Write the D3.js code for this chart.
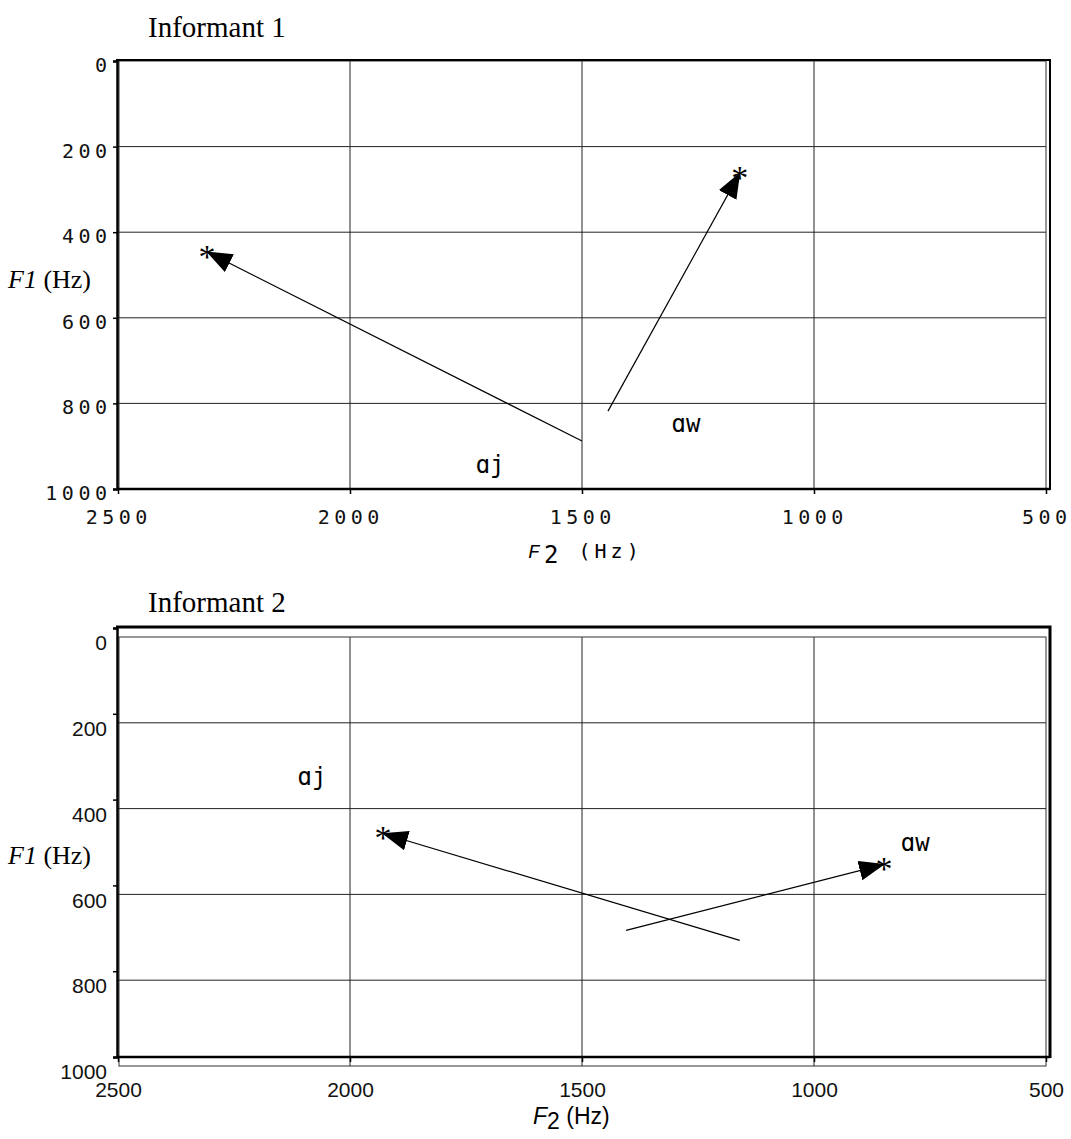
<!DOCTYPE html>
<html>
<head>
<meta charset="utf-8">
<script src="https://cdn.jsdelivr.net/npm/d3@7"></script>
<style>
  body { margin: 0; background: #fff; }
  svg { display: block; }
</style>
</head>
<body>
<svg id="chart" width="1071" height="1139"></svg>
<script>
// ---- data ----
const panelTitles = ["Informant 1", "Informant 2"];
const f2Ticks = [2500, 2000, 1500, 1000, 500];
const f1Ticks = [0, 200, 400, 600, 800, 1000];
const vowelLabels = ["ɑj", "ɑw"];

// Informant 1: trajectory start (F2, F1), end (F2, F1), label position
const inf1StartF2 = [1500, 1444];
const inf1StartF1 = [888, 818];
const inf1EndF2 = [2308, 1160];
const inf1EndF1 = [446, 262];
const inf1LabelF2 = [1698, 1276];
const inf1LabelF1 = [944, 848];

// Informant 2
const inf2StartF2 = [1160, 1405];
const inf2StartF1 = [707, 684];
const inf2EndF2 = [1929, 849];
const inf2EndF1 = [458, 530];
const inf2LabelF2 = [2082, 782];
const inf2LabelF1 = [326, 481];

// ---- drawing ----
const svg = d3.select("#chart");
const defs = svg.append("defs");
defs.append("marker")
  .attr("id", "arrow")
  .attr("markerUnits", "userSpaceOnUse")
  .attr("viewBox", "0 0 26 20")
  .attr("refX", 25).attr("refY", 10)
  .attr("markerWidth", 26).attr("markerHeight", 20)
  .attr("orient", "auto")
  .append("path").attr("d", "M0,0 L26,10 L0,20 Z").attr("fill", "#000");

const xLeft = 118, xRight = 1046;

function buildPanel(cfg) {
  const g = svg.append("g");
  const x = d3.scaleLinear().domain([2500, 500]).range([xLeft, xRight]);
  const y = d3.scaleLinear().domain([0, 1000]).range([cfg.yTop, cfg.yBottom]);

  // grid
  g.append("g").selectAll("line").data(f2Ticks.slice(1, -1)).join("line")
    .attr("x1", d => x(d)).attr("x2", d => x(d))
    .attr("y1", cfg.yTop).attr("y2", cfg.yBottom)
    .attr("stroke", "#222").attr("stroke-width", 1);
  g.append("g").selectAll("line").data(f1Ticks.slice(1, -1)).join("line")
    .attr("x1", xLeft).attr("x2", xRight)
    .attr("y1", d => y(d)).attr("y2", d => y(d))
    .attr("stroke", "#222").attr("stroke-width", 1);

  // inner plot box
  g.append("rect")
    .attr("x", xLeft + 1).attr("y", cfg.yTop)
    .attr("width", xRight - xLeft - 1).attr("height", cfg.yBottom - cfg.yTop)
    .attr("fill", "none").attr("stroke", "#333").attr("stroke-width", 1);

  // outer frame (top + right)
  const ax = cfg.axisShift;
  g.append("path")
    .attr("d", `M${xLeft - 2},${cfg.frameTop} H1050 V${cfg.yBottom + ax + 1}`)
    .attr("fill", "none").attr("stroke", "#000").attr("stroke-width", cfg.frameW);

  // axes
  const yAxis = d3.axisLeft(y).tickValues(f1Ticks).tickSize(4).tickPadding(6)
    .tickFormat(d3.format("d"));
  const gy = g.append("g").attr("transform", `translate(${xLeft - 1},${ax})`).call(yAxis);
  gy.select(".domain").attr("stroke-width", 2.5);
  gy.selectAll(".tick line").attr("stroke-width", 1.5);
  gy.selectAll("text")
    .attr("font-family", cfg.tickFont).attr("font-size", cfg.tickSize)
    .attr("letter-spacing", cfg.letterSpacing).attr("fill", "#111")
    .attr("transform", `translate(${cfg.letterSpacing},${cfg.labelDy})`);

  const xAxis = d3.axisBottom(x).tickValues(f2Ticks).tickSize(5).tickPadding(cfg.xPad)
    .tickFormat(d3.format("d"));
  const gx = g.append("g").attr("transform", `translate(0,${cfg.yBottom + ax})`).call(xAxis);
  gx.select(".domain").attr("stroke-width", 2.5).attr("d", `M${xLeft - 1},0H1050`);
  gx.selectAll(".tick line").attr("stroke-width", 1.5);
  gx.selectAll("text")
    .attr("font-family", cfg.tickFont).attr("font-size", cfg.tickSize)
    .attr("letter-spacing", cfg.letterSpacing).attr("fill", "#111")
    .attr("dx", cfg.letterSpacing / 2 + cfg.xLabelShift);

  // title
  g.append("text").attr("x", 148).attr("y", cfg.titleY)
    .attr("font-family", "Liberation Serif, Times New Roman, serif")
    .attr("font-size", 29).text(cfg.title);

  // y label
  const yl = g.append("text").attr("x", 8).attr("y", cfg.yLabelY)
    .attr("font-family", "Liberation Serif, Times New Roman, serif")
    .attr("font-size", 26);
  yl.append("tspan").attr("font-style", "italic").text("F1");
  yl.append("tspan").text(" (Hz)");

  // x label
  const xl = g.append("text").attr("x", cfg.xLabelX).attr("y", cfg.xLabelY)
    .attr("font-family", cfg.xLabelFont).attr("font-size", cfg.xLabelSize)
    .attr("letter-spacing", cfg.xLabelLs);
  xl.append("tspan").attr("font-style", "italic").attr("font-family", cfg.xLabelFFont).text("F");
  xl.append("tspan").attr("dy", 5).attr("font-size", cfg.xLabelSize * cfg.subScale).text("2");
  xl.append("tspan").attr("dy", -5).text(" (Hz)");

  // trajectories
  const d = d3.range(cfg.startF2.length).map(i => ({
    x1: cfg.startF2[i], y1: cfg.startF1[i], x2: cfg.endF2[i], y2: cfg.endF1[i],
    lx: cfg.labelF2[i], ly: cfg.labelF1[i], label: vowelLabels[i]
  }));
  g.append("g").selectAll("line").data(d).join("line")
    .attr("x1", p => x(p.x1)).attr("y1", p => y(p.y1))
    .attr("x2", p => x(p.x2)).attr("y2", p => y(p.y2))
    .attr("stroke", "#000").attr("stroke-width", 1.2)
    .attr("marker-end", "url(#arrow)");
  g.append("g").selectAll("text").data(d).join("text")
    .attr("x", p => x(p.x2)).attr("y", p => y(p.y2) + 16)
    .attr("text-anchor", "middle")
    .attr("font-family", "Liberation Serif, serif").attr("font-size", 34)
    .text("*");
  g.append("g").selectAll("text").data(d).join("text")
    .attr("x", p => x(p.lx)).attr("y", p => y(p.ly) + 8)
    .attr("text-anchor", "middle")
    .attr("font-family", "DejaVu Sans Mono, monospace").attr("font-size", 24)
    .text(p => p.label);
}

buildPanel({
  title: panelTitles[0], titleY: 37,
  yTop: 61, yBottom: 489, frameTop: 60, frameW: 2, axisShift: 0,
  tickFont: "DejaVu Sans Mono, monospace", tickSize: 20, letterSpacing: 4.5,
  labelDy: 4, xPad: 16, xLabelShift: -2,
  yLabelY: 288,
  xLabelX: 528, xLabelY: 558, xLabelFont: "DejaVu Sans Mono, monospace",
  xLabelFFont: "Liberation Mono, monospace", xLabelLs: 4,
  xLabelSize: 20, subScale: 1.2,
  startF2: inf1StartF2, startF1: inf1StartF1, endF2: inf1EndF2, endF1: inf1EndF1,
  labelF2: inf1LabelF2, labelF1: inf1LabelF1
});

buildPanel({
  title: panelTitles[1], titleY: 612,
  yTop: 637, yBottom: 1066, frameTop: 627, frameW: 3, axisShift: -9,
  tickFont: "Liberation Sans, Arial, sans-serif", tickSize: 21, letterSpacing: 0,
  labelDy: 15, xPad: 20, xLabelShift: 0,
  yLabelY: 864,
  xLabelX: 533, xLabelY: 1124, xLabelFont: "Liberation Sans, Arial, sans-serif",
  xLabelFFont: "Liberation Sans, Arial, sans-serif", xLabelLs: 0,
  xLabelSize: 23, subScale: 1.0,
  startF2: inf2StartF2, startF1: inf2StartF1, endF2: inf2EndF2, endF1: inf2EndF1,
  labelF2: inf2LabelF2, labelF1: inf2LabelF1
});
</script>
</body>
</html>
